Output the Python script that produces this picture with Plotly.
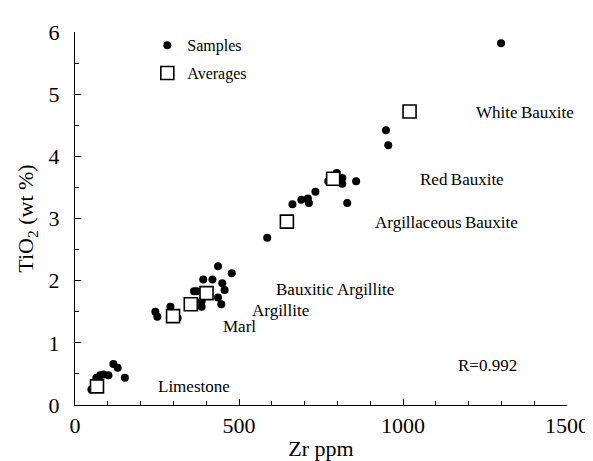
import plotly.graph_objects as go

# Samples
sample_zr = [50, 65, 77, 87, 102, 117, 130, 152,
             245, 251, 291, 313,
             363, 371, 386, 386, 391, 419, 436, 478, 449, 456, 436, 446,
             586, 663, 690, 710, 713, 733, 830,
             772, 798, 815, 815, 857,
             948, 955, 1299]
sample_ti = [0.25, 0.44, 0.48, 0.49, 0.48, 0.66, 0.60, 0.44,
             1.50, 1.42, 1.58, 1.40,
             1.83, 1.83, 1.67, 1.58, 2.02, 2.02, 2.23, 2.12, 1.96, 1.85, 1.73, 1.62,
             2.69, 3.23, 3.30, 3.32, 3.25, 3.43, 3.25,
             3.60, 3.73, 3.65, 3.56, 3.60,
             4.42, 4.18, 5.82]

# Averages
avg_names = ["Limestone", "Marl", "Argillite", "Bauxitic Argillite",
             "Argillaceous Bauxite", "Red Bauxite", "White Bauxite"]
avg_zr = [67, 299, 353, 401, 646, 787, 1020]
avg_ti = [0.30, 1.43, 1.62, 1.80, 2.95, 3.64, 4.72]

# Label positions
label_text = ["White\u2009Bauxite", "Red\u2009Bauxite", "Argillaceous\u2009Bauxite",
              "Bauxitic\u2009Argillite", "Argillite", "Marl", "Limestone", "R=0.992"]
label_x = [1371, 1180, 1132, 793, 626, 503, 362, 1257]
label_y = [4.71, 3.63, 2.94, 1.86, 1.52, 1.26, 0.29, 0.63]

FONT = "Liberation Serif, Times New Roman, serif"

fig = go.Figure()
fig.add_trace(go.Scatter(
    x=sample_zr, y=sample_ti, mode="markers", name="Samples",
    legendgroup="a",
    marker=dict(symbol="circle", size=8, color="black", line=dict(width=0))))
fig.add_trace(go.Scatter(
    x=avg_zr, y=avg_ti, mode="markers", name="Averages", text=avg_names,
    legendgroup="b",
    marker=dict(symbol="square", size=13, color="white",
                line=dict(width=1.6, color="black"))))

for t, x, y in zip(label_text, label_x, label_y):
    fig.add_annotation(x=x, y=y, text=t, showarrow=False, xanchor="center",
                       yanchor="middle", font=dict(family=FONT, size=17, color="black"))

fig.update_layout(
    width=593, height=461,
    margin=dict(l=67, r=26, t=21, b=50),
    plot_bgcolor="white", paper_bgcolor="white",
    font=dict(family=FONT, color="black"),
    showlegend=True,
    legend=dict(x=0.147, y=1.01, xanchor="left", yanchor="top",
                font=dict(family=FONT, size=16), tracegroupgap=4,
                traceorder="grouped", bgcolor="rgba(0,0,0,0)"),
    xaxis=dict(range=[0, 1500], showgrid=False, zeroline=False,
               showline=True, linecolor="black", linewidth=1.2,
               tickmode="array", tickvals=[0, 500, 1000, 1500],
               ticks="inside", ticklen=6, tickcolor="black",
               minor=dict(dtick=100, ticks="inside", ticklen=4, tickcolor="black"),
               tickfont=dict(family=FONT, size=22),
               title=dict(text="Zr ppm", font=dict(family=FONT, size=22), standoff=4)),
    yaxis=dict(range=[0, 6], showgrid=False, zeroline=False,
               showline=True, linecolor="black", linewidth=1.2,
               tickmode="array", tickvals=[0, 1, 2, 3, 4, 5, 6],
               ticks="inside", ticklen=6, tickcolor="black",
               ticklabelstandoff=10,
               minor=dict(dtick=0.5, ticks="inside", ticklen=4, tickcolor="black"),
               tickfont=dict(family=FONT, size=22),
               title=dict(text="TiO<sub>2</sub> (wt %)", font=dict(family=FONT, size=22),
                          standoff=8)),
)

fig.write_html("out.html")
